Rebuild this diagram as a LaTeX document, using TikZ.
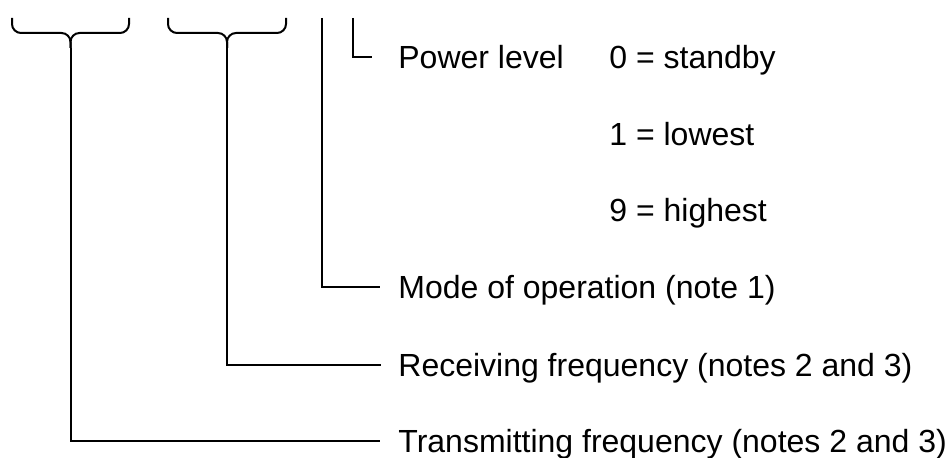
\documentclass[tikz,border=0pt]{standalone}
\usepackage{fontspec}
\setmainfont{Liberation Sans}
\usetikzlibrary{positioning}

\tikzset{
  lbl/.style={anchor=base west, inner sep=0pt, font=\fontsize{16}{19}\selectfont},
  wire/.style={line width=1pt},
  grp/.style={wire, rounded corners=4.5pt}
}

\begin{document}
\begin{tikzpicture}[x=0.5pt,y=-0.5pt]
  \useasboundingbox (0,0) rectangle (950,458);
  % end points of the groups on the top row
  \coordinate (txL)   at (12,18);
  \coordinate (txR)   at (129,18);
  \coordinate (txTip) at (70.5,48);
  \coordinate (rxL)   at (168,18);
  \coordinate (rxR)   at (286,18);
  \coordinate (rxTip) at (227,48);
  \coordinate (mdTop) at (322,18);
  \coordinate (pwTop) at (353,18);
  % labels
  \node[lbl] (pw) at (398,68.5) {Power level};
  \node[lbl] (p0) at (609,68.5) {0 = standby};
  \node[lbl] (p1) at (609,146)  {1 = lowest};
  \node[lbl] (p9) at (609,222)  {9 = highest};
  \node[lbl] (md) at (398,299)  {Mode of operation (note 1)};
  \node[lbl] (rx) at (398,377)  {Receiving frequency (notes 2 and 3)};
  \node[lbl] (tx) at (398,453)  {Transmitting frequency (notes 2 and 3)};
  % braces
  \draw[grp] (txL) |- (txTip |- 0,33) -- (txTip);
  \draw[grp] (txR) |- (txTip |- 0,33) -- (txTip);
  \draw[grp] (rxL) |- (rxTip |- 0,33) -- (rxTip);
  \draw[grp] (rxR) |- (rxTip |- 0,33) -- (rxTip);
  % leader lines
  \draw[wire] (pwTop) |- ([xshift=-13pt,yshift=5.75pt]pw.base west);
  \draw[wire] (mdTop) |- ([xshift=-9pt,yshift=5.75pt]md.base west);
  \draw[wire] (rxTip) |- ([xshift=-8.5pt,yshift=6pt]rx.base west);
  \draw[wire] (txTip) |- ([xshift=-9pt,yshift=5.75pt]tx.base west);
\end{tikzpicture}
\end{document}
